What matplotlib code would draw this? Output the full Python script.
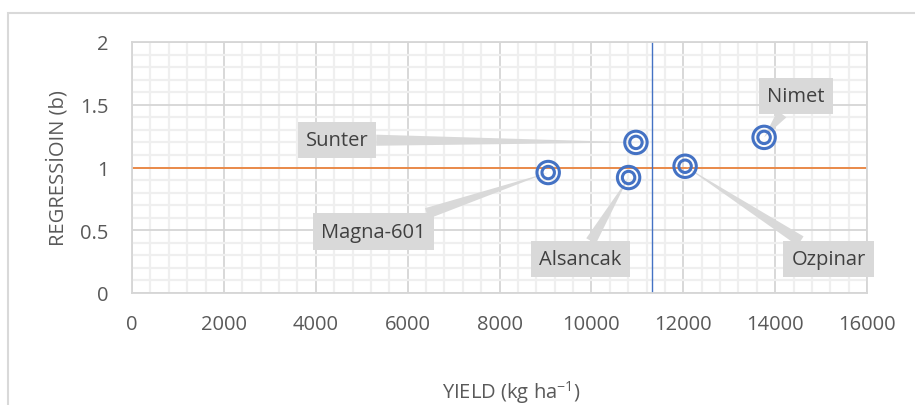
import matplotlib
matplotlib.use("Agg")
import matplotlib.pyplot as plt
from matplotlib.patches import Rectangle
from matplotlib.ticker import MultipleLocator

plt.rcParams['font.family'] = ['Open Sans', 'DejaVu Sans']
plt.rcParams['mathtext.fontset'] = 'custom'
plt.rcParams['mathtext.rm'] = 'Open Sans'
plt.rcParams['mathtext.default'] = 'regular'

genotypes = ["Sunter", "Magna-601", "Alsancak", "Ozpinar", "Nimet"]
yield_kg = [10970, 9060, 10810, 12040, 13760]
regression_b = [1.20, 0.96, 0.92, 1.01, 1.24]
label_x = [4460, 5250, 9760, 15160, 14450]
label_y = [1.22, 0.49, 0.27, 0.27, 1.57]
mean_yield = 11315
ref_b = 1.0
xticks = [0, 2000, 4000, 6000, 8000, 10000, 12000, 14000, 16000]
yticks = [0, 0.5, 1, 1.5, 2]
xtick_labels = ["0", "2000", "4000", "6000", "8000", "10000", "12000", "14000", "16000"]
ytick_labels = ["0", "0.5", "1", "1.5", "2"]

W, H = 915, 406
fig = plt.figure(figsize=(W / 100, H / 100), dpi=100)
ax = fig.add_axes([132 / W, 1 - 294 / H, 735 / W, 251 / H])

# outer chart frame
fig.patches.append(Rectangle((8 / W, -0.2), 1.2, 1 - 14 / H + 0.2,
                             transform=fig.transFigure, fill=False,
                             ec='#d9d9d9', lw=1.5, zorder=0))

FS = 14.5
ax.set_xlim(0, 16000)
ax.set_ylim(0, 2)
ax.set_xticks(xticks)
ax.set_xticklabels(xtick_labels)
ax.set_yticks(yticks)
ax.set_yticklabels(ytick_labels)
ax.xaxis.set_minor_locator(MultipleLocator(400))
ax.yaxis.set_minor_locator(MultipleLocator(0.1))
ax.grid(which='minor', color='#efefef', lw=1.6, zorder=0)
ax.grid(which='major', color='#d6d6d6', lw=1.3, zorder=0.5)
ax.set_axisbelow(True)
ax.tick_params(which='both', length=0)
ax.tick_params(axis='both', labelsize=FS, labelcolor='#595959')
ax.tick_params(axis='x', pad=15)
ax.tick_params(axis='y', pad=17)
for s in ax.spines.values():
    s.set_color('#d6d6d6')
    s.set_linewidth(1.3)

ax.axhline(ref_b, color='#ED7D31', lw=1.2, zorder=2)
ax.axvline(mean_yield, color='#4472C4', lw=1.0, zorder=2)

for name, x, y, lx, ly in zip(genotypes, yield_kg, regression_b, label_x, label_y):
    ax.annotate(name, xy=(x, y), xytext=(lx, ly), textcoords='data',
                ha='center', va='center', fontsize=FS, color='#404040',
                bbox=dict(boxstyle='square,pad=0.4', fc='#d9d9d9', ec='none'),
                arrowprops=dict(arrowstyle='wedge,tail_width=0.55,shrink_factor=0.5',
                                fc='#d9d9d9', ec='none', shrinkA=0, shrinkB=0),
                zorder=3)

ax.scatter(yield_kg, regression_b, s=260, facecolors='none', edgecolors='#4472C4',
           linewidths=2.2, zorder=4)
ax.scatter(yield_kg, regression_b, s=80, facecolors='none', edgecolors='#4472C4',
           linewidths=2.2, zorder=4)

ax.set_ylabel("REGRESSİOIN (b)", fontsize=FS, color='#595959', va='center')
ax.yaxis.set_label_coords((58 - 132) / 735, (294 - 168) / 251)
ax.set_xlabel("YIELD (kg ha$^{-1}$)", fontsize=FS, color='#595959', va='center')
ax.xaxis.set_label_coords((511 - 132) / 735, (294 - 393) / 251)

fig.savefig("out.png", dpi=100)
